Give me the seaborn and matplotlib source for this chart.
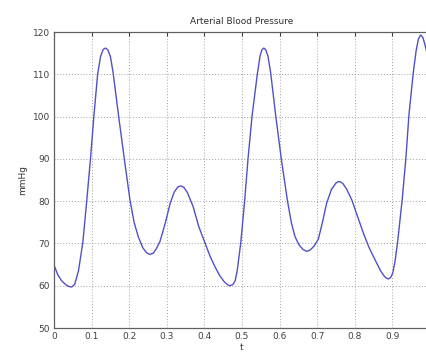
import matplotlib
matplotlib.use("Agg")
import matplotlib.pyplot as plt
import seaborn as sns
import pandas as pd

# Values
t = [0.000, 0.010, 0.020, 0.032, 0.040, 0.047, 0.055, 0.065, 0.072, 0.077, 0.087,
     0.097, 0.106, 0.116, 0.124, 0.131, 0.137, 0.143, 0.150, 0.157, 0.172, 0.187,
     0.202, 0.213, 0.224, 0.236, 0.246, 0.255, 0.264, 0.272, 0.282, 0.295, 0.309,
     0.320, 0.330, 0.337, 0.345, 0.355, 0.370, 0.385, 0.402, 0.415, 0.428, 0.440,
     0.452, 0.462, 0.468, 0.476, 0.482, 0.4875, 0.4965, 0.507, 0.516, 0.5266,
     0.5407, 0.548, 0.553, 0.558, 0.563, 0.569, 0.576, 0.590, 0.6045, 0.6205,
     0.631, 0.641, 0.652, 0.662, 0.670, 0.676, 0.683, 0.692, 0.703, 0.714, 0.725,
     0.738, 0.750, 0.756, 0.761, 0.768, 0.778, 0.792, 0.808, 0.823, 0.838, 0.854,
     0.868, 0.878, 0.884, 0.889, 0.895, 0.901, 0.907, 0.9138, 0.926, 0.936, 0.944,
     0.9555, 0.963, 0.969, 0.975, 0.981, 0.986, 0.992]
bp = [64.9, 62.6, 61.2, 60.2, 59.8, 59.7, 60.3, 63.5, 67.5, 70.5, 80.0,
      90.0, 100.0, 110.0, 114.3, 115.9, 116.2, 115.8, 114.2, 110.5, 100.0, 90.0,
      80.3, 75.0, 71.6, 69.0, 67.8, 67.4, 67.7, 68.7, 70.5, 74.5, 79.5,
      82.2, 83.4, 83.6, 83.3, 82.0, 78.7, 74.0, 70.0, 67.0, 64.5, 62.5,
      61.0, 60.2, 60.0, 60.3, 61.2, 63.7, 70.0, 80.0, 90.0, 100.0,
      110.0, 114.3, 115.8, 116.2, 115.8, 114.3, 110.5, 100.0, 90.0, 80.3,
      75.0, 71.6, 69.6, 68.6, 68.2, 68.2, 68.6, 69.4, 71.0, 75.0, 79.5,
      82.8, 84.3, 84.6, 84.6, 84.2, 82.9, 80.3, 76.2, 72.4, 69.0, 66.1,
      63.6, 62.3, 61.8, 61.6, 61.9, 63.0, 65.8, 70.3, 80.3, 90.3, 100.4,
      110.4, 115.5, 118.3, 119.3, 118.7, 117.2, 115.0]

xticks = [0, 0.1, 0.2, 0.3, 0.4, 0.5, 0.6, 0.7, 0.8, 0.9]
xtick_labels = ["0", "0.1", "0.2", "0.3", "0.4", "0.5", "0.6", "0.7", "0.8", "0.9"]
yticks = [50, 60, 70, 80, 90, 100, 110, 120]

sns.set_style("white")
plt.rcParams['font.family'] = ['DejaVu Sans']

df = pd.DataFrame({"t": t, "mmHg": bp})

fig = plt.figure(figsize=(4.27, 3.54), dpi=100)
ax = fig.add_axes([54 / 427, 26 / 354, 376 / 427, 296 / 354])

sns.lineplot(data=df, x="t", y="mmHg", ax=ax, color="#5050c8", linewidth=1.0)

ax.set_xlim(0, 1)
ax.set_ylim(50, 120)
ax.set_xticks(xticks)
ax.set_xticklabels(xtick_labels)
ax.set_yticks(yticks)

ax.grid(True, linestyle=(0, (1, 2)), color="#a0a0a0", linewidth=0.7)
ax.tick_params(axis="both", direction="in", length=3, labelsize=6.5,
               colors="#404040", top=True, right=False, pad=3)
for s in ax.spines.values():
    s.set_color("#606060")
    s.set_linewidth(0.9)
ax.spines["right"].set_visible(False)

ax.set_title("Arterial Blood Pressure", fontsize=6.5, color="#303030", pad=6)
ax.set_xlabel("t", fontsize=6.5, color="#303030", labelpad=1)
ax.set_ylabel("mmHg", fontsize=6.5, color="#303030", labelpad=4)

fig.savefig("out.png", dpi=100)
